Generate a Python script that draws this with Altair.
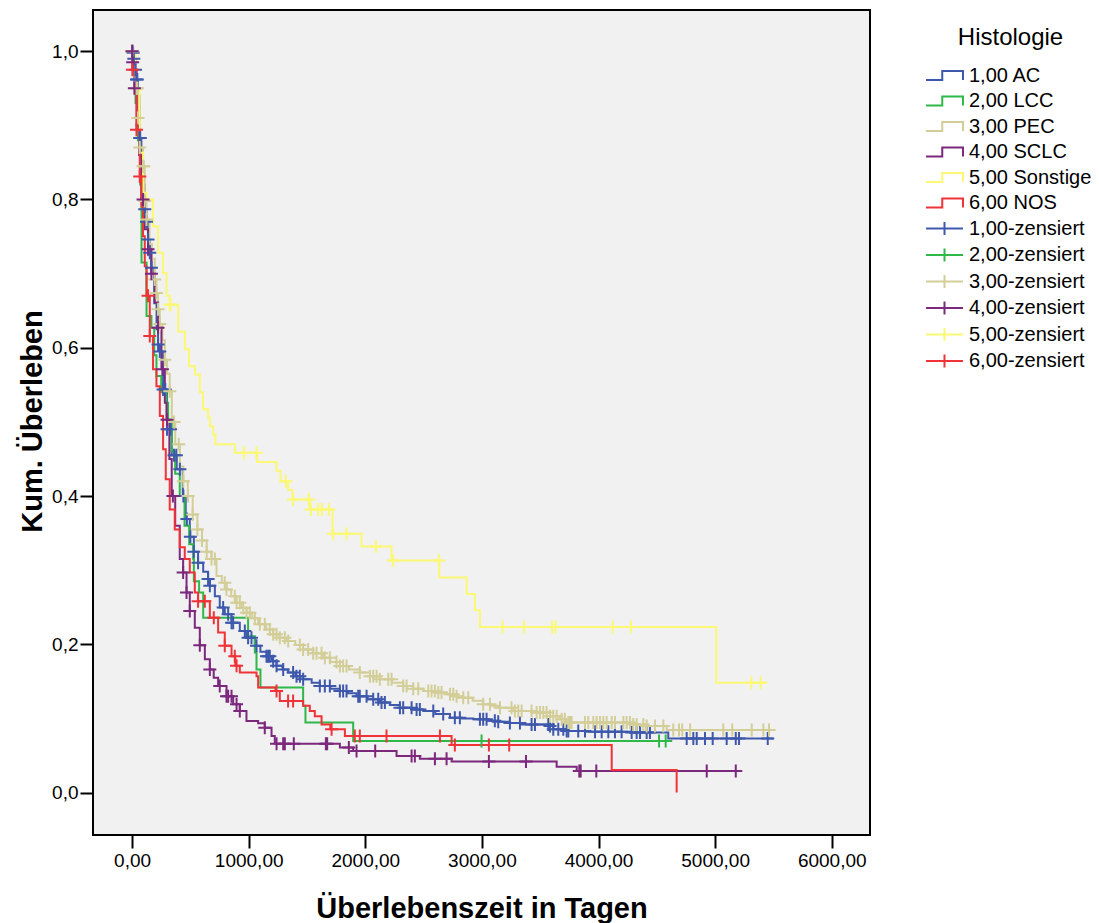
import altair as alt
import pandas as pd

# ---------------- data ----------------
line_labels = ["1,00 AC", "2,00 LCC", "3,00 PEC", "4,00 SCLC", "5,00 Sonstige", "6,00 NOS"]
cens_labels = ["1,00-zensiert", "2,00-zensiert", "3,00-zensiert", "4,00-zensiert", "5,00-zensiert", "6,00-zensiert"]
colors = ["#3e58ac", "#2eb848", "#d3ce97", "#7c287d", "#fbf873", "#ef3338"]

# step curves (time in days, cumulative survival)
ac_t = [0, 9, 15, 30, 38, 50, 66, 80, 95, 109, 124, 137, 152, 166, 190, 210, 223, 238, 266, 300, 340, 383, 435, 460, 495, 530, 566, 610, 652, 667, 710, 752, 795, 853, 924, 981, 1053, 1100, 1153, 1200, 1239, 1290, 1338, 1400, 1467, 1540, 1610, 1700, 1782, 1850, 1925, 2020, 2125, 2210, 2297, 2400, 2497, 2600, 2726, 2830, 2926, 3050, 3140, 3240, 3327, 3584, 3612, 3727, 3900, 4270, 4598, 5499]
ac_s = [1.0, 0.998, 0.99, 0.975, 0.962, 0.94, 0.883, 0.85, 0.82, 0.787, 0.77, 0.746, 0.728, 0.708, 0.66, 0.625, 0.6045, 0.595, 0.5438, 0.49, 0.455, 0.436, 0.40, 0.369, 0.345, 0.325, 0.31, 0.298, 0.288, 0.279, 0.265, 0.2495, 0.2404, 0.229, 0.218, 0.209, 0.198, 0.19, 0.184, 0.177, 0.171, 0.166, 0.162, 0.157, 0.153, 0.148, 0.1437, 0.14, 0.137, 0.134, 0.130, 0.126, 0.1214, 0.118, 0.1146, 0.112, 0.110, 0.106, 0.101, 0.100, 0.0988, 0.097, 0.0957, 0.094, 0.092, 0.0898, 0.0854, 0.083, 0.082, 0.081, 0.0728, 0.0728]

lcc_t = [0, 10, 30, 50, 70, 81, 124, 166, 190, 209, 250, 295, 309, 340, 370, 409, 450, 490, 524, 530, 575, 610, 995, 1053, 1067, 1101, 1467, 1487, 1896, 4627]
lcc_s = [1.0, 0.97, 0.93, 0.88, 0.82, 0.715, 0.643, 0.627, 0.59, 0.562, 0.54, 0.526, 0.503, 0.46, 0.43, 0.40, 0.36, 0.335, 0.315, 0.285, 0.27, 0.236, 0.211, 0.189, 0.166, 0.1416, 0.117, 0.0944, 0.0696, 0.0696]

pec_t = [0, 5, 20, 38, 51, 66, 94, 109, 124, 150, 170, 195, 209, 223, 238, 260, 281, 300, 323, 341, 370, 410, 440, 478, 520, 560, 600, 640, 681, 724, 770, 810, 850, 896, 940, 981, 1030, 1081, 1150, 1210, 1267, 1324, 1400, 1467, 1550, 1639, 1700, 1782, 1860, 1953, 2040, 2125, 2230, 2325, 2410, 2497, 2600, 2697, 2770, 2840, 2920, 3011, 3080, 3140, 3269, 3440, 3584, 3669, 3727, 4298, 4413, 4585, 5514]
pec_s = [1.0, 0.99, 0.97, 0.95, 0.91, 0.87, 0.845, 0.798, 0.773, 0.74, 0.72, 0.692, 0.674, 0.652, 0.632, 0.61, 0.584, 0.565, 0.5415, 0.50, 0.47, 0.44, 0.42, 0.40, 0.375, 0.355, 0.34, 0.325, 0.315, 0.292, 0.283, 0.274, 0.265, 0.256, 0.249, 0.2427, 0.235, 0.227, 0.22, 0.2135, 0.209, 0.2044, 0.199, 0.193, 0.188, 0.182, 0.176, 0.1707, 0.166, 0.162, 0.157, 0.153, 0.148, 0.1437, 0.14, 0.137, 0.135, 0.1326, 0.13, 0.128, 0.124, 0.119, 0.117, 0.1146, 0.110, 0.108, 0.103, 0.0988, 0.0944, 0.092, 0.0898, 0.0844, 0.0844]

sclc_t = [0, 5, 20, 40, 60, 80, 109, 137, 165, 195, 223, 252, 281, 295, 320, 340, 370, 409, 438, 467, 495, 538, 581, 624, 667, 700, 738, 810, 867, 924, 981, 1081, 1138, 1196, 1224, 1782, 1896, 2268, 2468, 2740, 3641, 3813, 5228]
sclc_s = [1.0, 0.985, 0.95, 0.9, 0.86, 0.8, 0.76, 0.733, 0.70, 0.661, 0.627, 0.571, 0.526, 0.503, 0.45, 0.40, 0.36, 0.315, 0.297, 0.270, 0.245, 0.2225, 0.1986, 0.180, 0.166, 0.155, 0.1437, 0.130, 0.119, 0.110, 0.0966, 0.0934, 0.0876, 0.0763, 0.066, 0.0607, 0.056, 0.0494, 0.0458, 0.0418, 0.035, 0.029, 0.029]

son_t = [0, 30, 66, 94, 124, 180, 223, 266, 295, 323, 395, 453, 489, 540, 582, 609, 652, 667, 695, 715, 881, 1073, 1239, 1273, 1339, 1376, 1525, 1719, 1968, 2225, 2634, 2869, 2940, 2983, 5009, 5442]
son_s = [1.0, 0.95, 0.863, 0.809, 0.80, 0.764, 0.728, 0.701, 0.670, 0.658, 0.622, 0.598, 0.575, 0.564, 0.540, 0.517, 0.506, 0.494, 0.483, 0.470, 0.4585, 0.446, 0.434, 0.420, 0.408, 0.3955, 0.382, 0.349, 0.332, 0.313, 0.290, 0.268, 0.246, 0.2233, 0.148, 0.148]

nos_t = [0, 3, 38, 66, 81, 94, 109, 124, 152, 180, 209, 238, 266, 289, 323, 366, 409, 452, 495, 538, 566, 667, 738, 795, 853, 885, 924, 1067, 1081, 1230, 1267, 1467, 1524, 1567, 1625, 1700, 1825, 2740, 4113, 4670]
nos_s = [1.0, 0.975, 0.894, 0.831, 0.791, 0.7505, 0.71, 0.67, 0.616, 0.571, 0.548, 0.508, 0.463, 0.4225, 0.382, 0.355, 0.331, 0.315, 0.297, 0.270, 0.258, 0.236, 0.216, 0.198, 0.184, 0.171, 0.162, 0.157, 0.1416, 0.137, 0.1235, 0.117, 0.110, 0.103, 0.092, 0.0854, 0.0763, 0.0642, 0.0305, 0.0]

# censored observations (times in days)
ac_c = [5, 9, 15, 30, 38, 45, 66, 70, 109, 124, 137, 152, 166, 223, 238, 266, 285, 300, 330, 360, 380, 410, 440, 470, 500, 530, 566, 652, 667, 781, 824, 853, 867, 967, 995, 1024, 1067, 1153, 1167, 1181, 1210, 1239, 1296, 1381, 1410, 1439, 1467, 1610, 1653, 1696, 1782, 1810, 1839, 1939, 1953, 2011, 2068, 2111, 2139, 2168, 2297, 2325, 2397, 2440, 2468, 2583, 2668, 2768, 2811, 2983, 3011, 3040, 3111, 3140, 3240, 3326, 3426, 3455, 3569, 3584, 3612, 3655, 3698, 3727, 3741, 3826, 3884, 3970, 4027, 4084, 4141, 4198, 4284, 4327, 4356, 4413, 4441, 4756, 4813, 4842, 4913, 4979, 5099, 5177, 5205, 5451]
lcc_c = [0, 2997, 4519, 4576]
pec_c = [0, 2, 38, 40, 45, 51, 66, 94, 100, 109, 124, 195, 209, 223, 238, 281, 323, 360, 400, 440, 480, 520, 560, 600, 640, 681, 710, 795, 810, 881, 896, 924, 953, 981, 1010, 1053, 1096, 1138, 1181, 1210, 1239, 1267, 1310, 1339, 1439, 1467, 1510, 1553, 1582, 1625, 1653, 1696, 1753, 1782, 1810, 1839, 1953, 2040, 2068, 2097, 2125, 2197, 2225, 2325, 2354, 2411, 2454, 2540, 2568, 2597, 2626, 2654, 2726, 2754, 2783, 2840, 2883, 3011, 3069, 3155, 3254, 3283, 3312, 3341, 3426, 3469, 3498, 3526, 3555, 3584, 3612, 3641, 3684, 3712, 3741, 3755, 3769, 3884, 3912, 3955, 3984, 4013, 4041, 4070, 4113, 4141, 4213, 4241, 4270, 4298, 4327, 4384, 4413, 4484, 4556, 4641, 4690, 4718, 4785, 5070, 5147, 5314, 5414, 5462]
sclc_c = [0, 5, 20, 94, 137, 166, 223, 260, 300, 350, 438, 467, 495, 581, 667, 752, 810, 824, 853, 896, 924, 1138, 1239, 1296, 1310, 1387, 1662, 1673, 1859, 1925, 2085, 2397, 2425, 2597, 2697, 3060, 3378, 3835, 3847, 3981, 4928, 5177]
son_c = [323, 330, 958, 1067, 1319, 1381, 1516, 1533, 1596, 1627, 1687, 1725, 1839, 2091, 2239, 2631, 3177, 3360, 3603, 3632, 4121, 4278, 5310, 5391]
nos_c = [3, 38, 66, 137, 152, 566, 624, 701, 795, 881, 896, 1239, 1338, 1381, 1711, 1910, 1953, 2182, 2640, 2768, 3060, 3234]

x_ticks = [0, 1000, 2000, 3000, 4000, 5000, 6000]
y_ticks = [0.0, 0.2, 0.4, 0.6, 0.8, 1.0]

# ---------------- tables ----------------
curves = [(ac_t, ac_s, ac_c), (lcc_t, lcc_s, lcc_c), (pec_t, pec_s, pec_c),
          (sclc_t, sclc_s, sclc_c), (son_t, son_s, son_c), (nos_t, nos_s, nos_c)]


def step_value(ts, ss, t):
    v = ss[0]
    for ti, si in zip(ts, ss):
        if ti <= t:
            v = si
        else:
            break
    return v


line_rows, cens_rows = [], []
for i, (ts, ss, cs) in enumerate(curves):
    for t, s in zip(ts, ss):
        line_rows.append({"t": t, "S": s, "label": line_labels[i]})
    for t in cs:
        cens_rows.append({"t": t, "S": step_value(ts, ss, t), "label": cens_labels[i]})
lines_df = pd.DataFrame(line_rows)
cens_df = pd.DataFrame(cens_rows)

FONT = "Liberation Sans"
all_labels = line_labels + cens_labels

x_scale = alt.Scale(domain=[-335, 6328], nice=False, zero=False)
y_scale = alt.Scale(domain=[-0.0572, 1.0556], nice=False, zero=False)

x_axis = alt.Axis(values=x_ticks, labelExpr="replace(format(datum.value, '.2f'), '.', ',')",
                  title="Überlebenszeit in Tagen", grid=False, domain=False,
                  tickSize=13, tickWidth=2, tickColor="black", labelPadding=3,
                  labelFontSize=19, labelFont=FONT, labelColor="black",
                  titleFont=FONT, titleFontSize=29, titleFontWeight="bold", titleColor="black",
                  titleBaseline="alphabetic", titleY=82)
y_axis = alt.Axis(values=y_ticks, labelExpr="replace(format(datum.value, '.1f'), '.', ',')",
                  title="Kum. Überleben", grid=False, domain=False,
                  tickSize=13, tickWidth=2, tickColor="black", labelPadding=2,
                  labelFontSize=19, labelFont=FONT, labelColor="black",
                  titleFont=FONT, titleFontSize=29, titleFontWeight="bold", titleColor="black",
                  titleAngle=270, titleBaseline="alphabetic", titleX=-52, titleY=411, titleAlign="center")

# legend icons: step for survival curves, "+" for censored cases
shape_expr = ("indexof(datum.value, 'zensiert') >= 0 ? 'M-1.32,0L1.32,0M0,-0.47L0,0.47' : "
              "'M-1.32,0.33L-0.16,0.33L-0.16,-0.33L1.32,-0.33L1.32,0.33'")

legend = alt.Legend(
    title="Histologie", orient="none", legendX=836.5, legendY=16, padding=0,
    titleFont=FONT, titleFontSize=24, titleFontWeight="normal", titleColor="black",
    titleAnchor="middle", titlePadding=10.5,
    labelFont=FONT, labelFontSize=20, labelColor="black", labelOffset=9.5,
    symbolSize=784, symbolStrokeWidth=2, rowPadding=0.5,
    symbolType=alt.ExprRef(expr=shape_expr), symbolFillColor="transparent")

color = alt.Color("label:N", scale=alt.Scale(domain=all_labels, range=colors + colors), legend=legend)

lines = alt.Chart(lines_df).mark_line(interpolate="step-after", strokeWidth=2).encode(
    x=alt.X("t:Q", scale=x_scale, axis=x_axis),
    y=alt.Y("S:Q", scale=y_scale, axis=y_axis),
    color=color,
)

cens = alt.Chart(cens_df).mark_point(shape="M-1,0L1,0M0,-1L0,1", size=169, strokeWidth=2,
                                     filled=False, opacity=1).encode(
    x=alt.X("t:Q", scale=x_scale),
    y=alt.Y("S:Q", scale=y_scale),
    color=color,
)

chart = alt.layer(lines, cens).properties(
    width=777, height=825,
    padding={"left": 93, "top": 10, "right": 229, "bottom": 88},
    autosize=alt.AutoSizeParams(type="none"),
    background="white",
).configure_view(stroke="black", strokeWidth=2, fill="#f1f1f1")

chart.save("out.html", embed_options={"renderer": "svg", "actions": False})
